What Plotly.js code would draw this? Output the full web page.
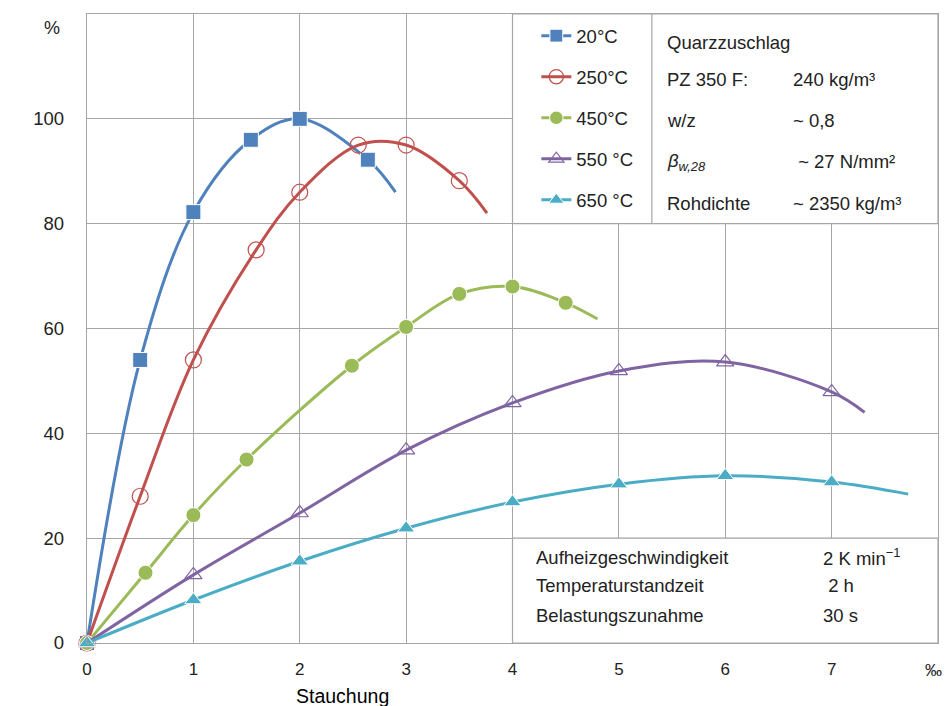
<!DOCTYPE html>
<html>
<head>
<meta charset="utf-8">
<script src="https://cdn.plot.ly/plotly-3.0.1.min.js"></script>
<style>html,body{margin:0;padding:0;background:#fff;}#chart{width:945px;height:706px;}</style>
</head>
<body>
<div id="chart"></div>
<script>
// Data (Stauchung in ‰, bezogene Druckspannung in %)
const x20 = [0, 0.5, 1, 1.54, 2, 2.64, 2.9];
const y20 = [0, 54, 82.2, 96, 100, 92.2, 86];
const m20 = [true, true, true, true, true, true, false];

const x250 = [0, 0.5, 1, 1.59, 2, 2.55, 3, 3.5, 3.76];
const y250 = [0, 28, 54, 75, 86, 95, 95, 88.2, 82];
const m250 = [true, true, true, true, true, true, true, true, false];

const x450 = [0, 0.55, 1, 1.5, 2.49, 3, 3.5, 4, 4.5, 4.8];
const y450 = [0, 13.4, 24.4, 35, 52.9, 60.3, 66.6, 68, 64.9, 61.8];
const m450 = [true, true, true, true, true, true, true, true, true, false];

const x550 = [0, 1, 2, 3, 4, 5, 6, 7, 7.31];
const y550 = [0, 13, 24.8, 36.8, 45.8, 51.9, 53.6, 47.9, 44];
const m550 = [true, true, true, true, true, true, true, true, false];

const x650 = [0, 1, 2, 3, 4, 5, 6, 7, 7.72];
const y650 = [0, 8.2, 15.6, 21.9, 26.9, 30.3, 31.9, 30.7, 28.4];
const m650 = [true, true, true, true, true, true, true, true, false];

const seriesNames = ['20°C', '250°C', '450°C', '550 °C', '650 °C'];
const xTickVals = [0, 1, 2, 3, 4, 5, 6, 7];
const xTickText = ['0', '1', '2', '3', '4', '5', '6', '7'];
const xUnit = '‰';
const yTickVals = [0, 20, 40, 60, 80, 100];
const yUnit = '%';

const infoLeft = ['Quarzzuschlag', 'PZ 350 F:', 'w/z', '<i>β<sub>w,28</sub></i>', 'Rohdichte'];
const infoRight = ['', '240 kg/m³', '~ 0,8', ' ~ 27 N/mm²', '~ 2350 kg/m³'];
const condLeft = ['Aufheizgeschwindigkeit', 'Temperaturstandzeit', 'Belastungszunahme'];
const condRight = ['2 K min<sup>−1</sup>', ' 2 h', '30 s'];

const FONT = 'Liberation Sans, Arial, sans-serif';

function sizes(mask, s) { return mask.map(v => v ? s : 0); }

const colors = ['#4F81BD', '#C0504D', '#9BBB59', '#8064A2', '#4BACC6'];
const traces = [
  {x: x20, y: y20, marker: {symbol: 'square', size: sizes(m20, 15), color: colors[0]}},
  {x: x250, y: y250, marker: {symbol: 'circle-open', size: sizes(m250, 16), color: colors[1], line: {width: 1.2}}},
  {x: x450, y: y450, marker: {symbol: 'circle', size: sizes(m450, 15), color: colors[2]}},
  {x: x550, y: y550, marker: {symbol: 'triangle-up-open', size: sizes(m550, 15), color: colors[3], line: {width: 1.2}}},
  {x: x650, y: y650, marker: {symbol: 'triangle-up', size: sizes(m650, 15), color: colors[4]}}
].map((t, i) => {
  t.marker.opacity = 1;
  return Object.assign(t, {
    type: 'scatter', mode: 'lines+markers', name: seriesNames[i],
    legendgroup: 'g' + i,
    line: {color: colors[i], width: 3, shape: 'spline', smoothing: 1},
    cliponaxis: false
  });
});

const TXT = {family: FONT, size: 18.5, color: '#222'};
const annotations = [];
const infoY = [114.6, 107.6, 99.6, 91.8, 83.9];
infoLeft.forEach((t, i) => annotations.push({x: 5.43, y: infoY[i], xref: 'x', yref: 'y', text: t, showarrow: false, xanchor: 'left', yanchor: 'middle', font: TXT}));
infoRight.forEach((t, i) => { if (t) annotations.push({x: 6.62, y: infoY[i], xref: 'x', yref: 'y', text: t, showarrow: false, xanchor: 'left', yanchor: 'middle', font: TXT}); });
const condY = [16.4, 10.9, 5.2];
condLeft.forEach((t, i) => annotations.push({x: 4.2, y: condY[i], xref: 'x', yref: 'y', text: t, showarrow: false, xanchor: 'left', yanchor: 'middle', font: TXT}));
condRight.forEach((t, i) => annotations.push({x: 6.9, y: condY[i], xref: 'x', yref: 'y', text: t, showarrow: false, xanchor: 'left', yanchor: 'middle', font: TXT}));
annotations.push({xref: 'x', yref: 'y', x: -0.78, y: 51, text: 'bezogene Druckspannung', textangle: -90, showarrow: false, font: {family: FONT, size: 19.8, color: '#000'}, xanchor: 'center', yanchor: 'middle'});
annotations.push({xref: 'x', yref: 'paper', x: 2.4, y: 0, yshift: -53, text: 'Stauchung', showarrow: false, font: {family: FONT, size: 19.5, color: '#000'}, xanchor: 'center', yanchor: 'middle'});
annotations.push({xref: 'paper', yref: 'y', x: 0, xshift: -35, y: 117.4, text: yUnit, showarrow: false, font: {family: FONT, size: 18, color: '#222'}, xanchor: 'center', yanchor: 'middle'});
annotations.push({xref: 'x', yref: 'paper', x: 8, y: 0, yshift: -27, xshift: 6, text: xUnit, showarrow: false, font: {family: FONT, size: 17, color: '#222'}, xanchor: 'right', yanchor: 'middle'});

const GRID = '#A6A6A6';
const shapes = [
  {type: 'rect', xref: 'x', yref: 'y', x0: 4, x1: 8, y0: 80, y1: 120, fillcolor: '#fff', line: {color: GRID, width: 1.2}, layer: 'between'},
  {type: 'line', xref: 'x', yref: 'y', x0: 5.31, x1: 5.31, y0: 80, y1: 120, line: {color: GRID, width: 1.2}, layer: 'between'},
  {type: 'rect', xref: 'x', yref: 'y', x0: 4, x1: 8, y0: 0, y1: 20, fillcolor: '#fff', line: {color: GRID, width: 1.2}, layer: 'between'}
];

const layout = {
  width: 945, height: 706,
  margin: {l: 87, r: 7, t: 14, b: 63},
  paper_bgcolor: '#fff', plot_bgcolor: '#fff',
  font: {family: FONT, size: 18, color: '#222'},
  showlegend: true,
  legend: {x: 0.528, xanchor: 'left', y: 0.995, yanchor: 'top', bgcolor: 'rgba(0,0,0,0)', tracegroupgap: 14, font: {family: FONT, size: 18.5, color: '#222'}},
  xaxis: {range: [0, 8], tickvals: xTickVals, ticktext: xTickText, showgrid: true, gridcolor: GRID, gridwidth: 1.2, zeroline: false, showline: true, linecolor: GRID, linewidth: 1.2, mirror: true, ticks: 'outside', ticklen: 10, tickcolor: 'rgba(0,0,0,0)', tickfont: {family: FONT, size: 17, color: '#222'}, fixedrange: true},
  yaxis: {range: [0, 120], tickvals: yTickVals, showgrid: true, gridcolor: GRID, gridwidth: 1.2, zeroline: false, showline: true, linecolor: GRID, linewidth: 1.2, mirror: true, ticks: 'outside', ticklen: 18, tickcolor: 'rgba(0,0,0,0)', tickfont: {family: FONT, size: 18.5, color: '#222'}, fixedrange: true},
  shapes: shapes,
  annotations: annotations
};

Plotly.newPlot('chart', traces, layout, {displayModeBar: false, staticPlot: true});
</script>
</body>
</html>
